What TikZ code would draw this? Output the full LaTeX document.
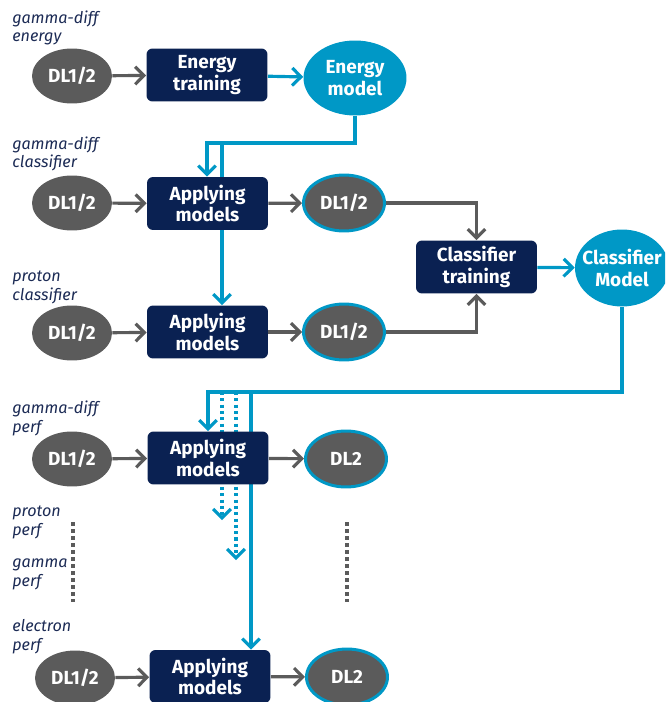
\documentclass[tikz,border=0pt]{standalone}
\usepackage{fontspec}
\setmainfont{Fira Sans}
\usetikzlibrary{shapes.geometric, arrows.meta, positioning, backgrounds}
\definecolor{navy}{HTML}{0A2152}
\definecolor{dgray}{HTML}{5B5B5B}
\definecolor{cblue}{HTML}{0098C6}
\definecolor{lbl}{HTML}{1C2B55}

\begin{document}
\begin{tikzpicture}[x=0.02cm, y=-0.02cm,
        data/.style={ellipse, fill=dgray, text=white, inner sep=0pt,
                     minimum width=1.6cm, minimum height=1.1cm,
                     font=\fontsize{10.8}{12.4}\selectfont\bfseries},
        outdata/.style={data, draw=cblue, line width=1.7pt,
                     minimum width=1.62cm, minimum height=1.12cm},
        proc/.style={rectangle, rounded corners=0.12cm, fill=navy, text=white,
                     minimum width=2.42cm, minimum height=1.06cm, inner sep=0pt,
                     align=center, font=\fontsize{10.8}{12.4}\selectfont\bfseries},
        model/.style={ellipse, fill=cblue, text=white, inner sep=0pt,
                     align=center, font=\fontsize{10.8}{12.4}\selectfont\bfseries},
        tag/.style={anchor=base west, inner sep=0pt, align=left, text=lbl,
                     font=\fontsize{9.2}{10.8}\selectfont\itshape},
        garr/.style={-{Straight Barb[length=5pt,width=10pt]}, dgray, line width=1.8pt},
        barr/.style={-{Straight Barb[length=5pt,width=10pt]}, cblue, line width=1.8pt},
        bdot/.style={barr, dash pattern=on 1.8pt off 1.8pt},
        gdot/.style={dgray, line width=2pt, dash pattern=on 2pt off 2pt}
    ]
        \useasboundingbox (0,0) rectangle (665,702);
        \clip (0,0) rectangle (665,702);

        % energy row
        \node[tag] (t1) at (12,42) {gamma-diff\\energy};
        \node[data] (d1) at (72,76) {DL1/2};
        \node[proc] (etrain) at (207,75) {Energy\\training};
        \node[model, minimum width=2.06cm, minimum height=1.5cm] (emodel) at (355,78) {Energy\\model};

        % classifier rows
        \node[tag] (t2) at (12,168) {gamma-diff\\classifier};
        \node[data] (d2) at (72,203) {DL1/2};
        \node[proc] (apply2) at (207.5,203.5) {Applying\\models};
        \node[outdata] (out2) at (344,203) {DL1/2};

        \node[tag] (t3) at (12,300) {proton\\classifier};
        \node[data] (d3) at (72,333) {DL1/2};
        \node[proc] (apply3) at (207.5,332) {Applying\\models};
        \node[outdata] (out3) at (344,332) {DL1/2};

        \node[proc] (ctrain) at (476.5,267) {Classifier\\training};
        \node[model, minimum width=1.88cm, minimum height=1.54cm, inner xsep=-4pt] (cmodel) at (622,268) {Classifier\\Model};

        % perf rows
        \node[tag] (t4) at (12,432) {gamma-diff\\perf};
        \node[data] (d4) at (72,459) {DL1/2};
        \node[proc] (apply4) at (208,458) {Applying\\models};
        \node[outdata] (out4) at (346,459) {DL2};

        \node[tag] (t5) at (12,535) {proton\\perf};
        \node[tag] (t6) at (12,586) {gamma\\perf};
        \node[tag] (t7) at (12,650) {electron\\perf};

        \node[data] (d5) at (75,678) {DL1/2};
        \node[proc] (apply5) at (210,676.5) {Applying\\models};
        \node[outdata] (out5) at (347,677) {DL2};

        \draw[gdot] (73,522) -- (73,602);
        \draw[gdot] (347,522) -- (347,602);

        % connectors
        \coordinate (s1) at (207,143);
        \coordinate (s2) at (222,143);
        \coordinate (s3) at (208,392);
        \coordinate (s4) at (222,392);
        \coordinate (s5) at (236,392);
        \coordinate (s6) at (251,392);
        \coordinate (e4) at (222,520);
        \coordinate (e5) at (236,560);

        \draw[garr] (d1) -- (etrain);
        \draw[barr] (etrain) -- (emodel);
        \draw[barr] (emodel.south) |- (s1) -- (apply2.north -| s1);

        \draw[garr] (d2) -- (apply2);
        \draw[garr] (apply2) -- (out2);
        \draw[garr] (out2) -| (ctrain);
        \draw[garr] (d3) -- (apply3);
        \draw[garr] (apply3) -- (out3);
        \draw[garr] (out3) -| (ctrain);
        \draw[barr] (ctrain) -- (cmodel);
        \draw[barr] (cmodel) |- (s3) -- (s3 |- apply4.north);

        \draw[garr] (d4) -- (apply4);
        \draw[garr] (apply4) -- (out4);
        \draw[garr] (d5) -- (apply5);
        \draw[garr] (apply5) -- (out5);

        \begin{scope}[on background layer]
            \draw[barr] (s2) -- (s2 |- apply3.north);
            \draw[bdot] (s4) -- (e4);
            \draw[bdot] (s5) -- (e5);
            \draw[barr] (s6) -- (s6 |- apply5.north);
        \end{scope}
    \end{tikzpicture}
\end{document}
